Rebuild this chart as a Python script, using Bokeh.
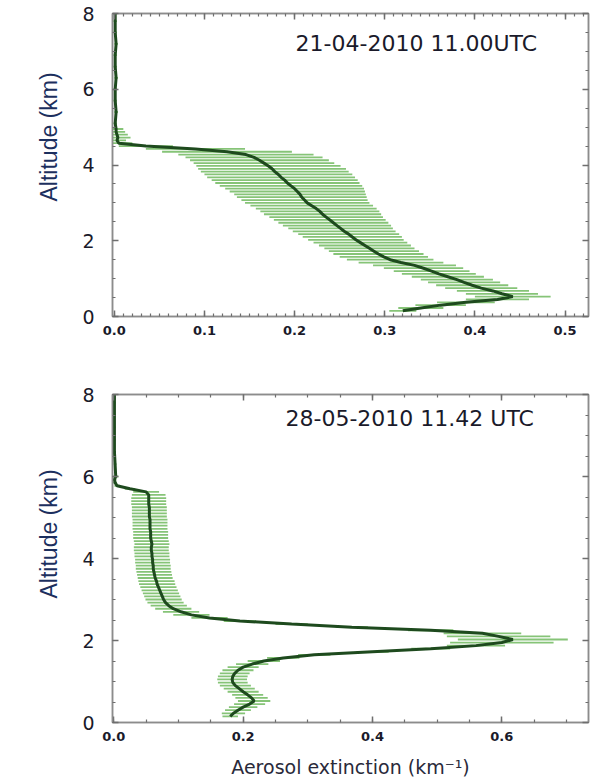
import numpy as np
from bokeh.plotting import figure
from bokeh.models import (LinearAxis, Label, Title, SingleIntervalTicker, Range1d,
                          NumeralTickFormatter, CustomJSTickFormatter)
from bokeh.layouts import column
from bokeh.embed import file_html
from bokeh.resources import INLINE

# ---------------- data: panel 1 (21-04-2010 11.00UTC) ----------------
top_title = "21-04-2010 11.00UTC"
top_alt = [0.15, 0.225, 0.30, 0.375, 0.45, 0.525, 0.60, 0.675, 0.75, 0.825,
           0.90, 0.975, 1.05, 1.125, 1.20, 1.275, 1.35, 1.425, 1.50, 1.575,
           1.65, 1.725, 1.80, 1.875, 1.95, 2.025, 2.10, 2.175, 2.25, 2.325,
           2.40, 2.475, 2.55, 2.625, 2.70, 2.775, 2.85, 2.925, 3.00, 3.075,
           3.15, 3.225, 3.30, 3.375, 3.45, 3.525, 3.60, 3.675, 3.75, 3.825,
           3.90, 3.975, 4.05, 4.125, 4.20, 4.275, 4.35, 4.425, 4.50, 4.575,
           4.65, 4.725, 4.80, 4.875, 4.95, 5.10, 5.40, 5.70, 6.00, 6.30,
           6.60, 6.90, 7.20, 7.50, 7.80, 8.00]
top_ext = [0.320, 0.340, 0.362, 0.390, 0.425, 0.442, 0.430, 0.420, 0.407, 0.397,
           0.388, 0.380, 0.370, 0.360, 0.352, 0.343, 0.333, 0.318, 0.306, 0.299,
           0.293, 0.288, 0.283, 0.278, 0.273, 0.268, 0.264, 0.260, 0.255, 0.251,
           0.247, 0.243, 0.239, 0.235, 0.231, 0.228, 0.224, 0.219, 0.214, 0.211,
           0.208, 0.206, 0.203, 0.200, 0.196, 0.192, 0.189, 0.185, 0.182, 0.178,
           0.175, 0.171, 0.166, 0.161, 0.155, 0.146, 0.125, 0.090, 0.035, 0.005,
           0.003, 0.004, 0.003, 0.002, 0.002, 0.001, 0.002, 0.001, 0.001, 0.002,
           0.001, 0.001, 0.002, 0.001, 0.001, 0.001]
top_err = [0.015, 0.025, 0.028, 0.032, 0.035, 0.042, 0.040, 0.040, 0.040, 0.040,
           0.040, 0.040, 0.040, 0.041, 0.042, 0.044, 0.046, 0.047, 0.048, 0.049,
           0.050, 0.050, 0.050, 0.051, 0.052, 0.053, 0.055, 0.056, 0.057, 0.058,
           0.060, 0.061, 0.062, 0.063, 0.065, 0.066, 0.067, 0.068, 0.069, 0.070,
           0.072, 0.073, 0.075, 0.077, 0.079, 0.080, 0.081, 0.082, 0.082, 0.082,
           0.082, 0.080, 0.078, 0.077, 0.076, 0.075, 0.072, 0.055, 0.030, 0.015,
           0.010, 0.014, 0.012, 0.010, 0.008, 0.002, 0.002, 0.002, 0.002, 0.002,
           0.002, 0.002, 0.002, 0.002, 0.002, 0.002]

# ---------------- data: panel 2 (28-05-2010 11.42 UTC) ----------------
bot_title = "28-05-2010 11.42 UTC"
bot_alt = [0.15, 0.225, 0.30, 0.375, 0.45, 0.525, 0.60, 0.675, 0.75, 0.825,
           0.90, 0.975, 1.05, 1.125, 1.20, 1.275, 1.35, 1.425, 1.50, 1.575,
           1.65, 1.725, 1.80, 1.875, 1.95, 2.025, 2.10, 2.175, 2.25, 2.325,
           2.40, 2.475, 2.55, 2.625, 2.70, 2.775, 2.85, 2.925, 3.00, 3.075,
           3.15, 3.225, 3.30, 3.375, 3.45, 3.525, 3.60, 3.675, 3.75, 3.825,
           3.90, 3.975, 4.05, 4.125, 4.20, 4.275, 4.35, 4.425, 4.50, 4.575,
           4.65, 4.725, 4.80, 4.875, 4.95, 5.025, 5.10, 5.175, 5.25, 5.325,
           5.40, 5.475, 5.55, 5.625, 5.70, 5.775, 5.85, 5.925, 6.00, 6.30,
           6.60, 6.90, 7.20, 7.50, 7.80, 8.00]
bot_ext = [0.180, 0.185, 0.192, 0.200, 0.210, 0.217, 0.213, 0.207, 0.200, 0.194,
           0.188, 0.184, 0.183, 0.184, 0.187, 0.192, 0.200, 0.214, 0.232, 0.262,
           0.310, 0.400, 0.490, 0.560, 0.600, 0.617, 0.595, 0.570, 0.490, 0.368,
           0.275, 0.195, 0.148, 0.120, 0.104, 0.092, 0.085, 0.080, 0.077, 0.075,
           0.073, 0.071, 0.069, 0.067, 0.066, 0.064, 0.063, 0.062, 0.061, 0.061,
           0.060, 0.060, 0.059, 0.059, 0.058, 0.058, 0.059, 0.058, 0.057, 0.057,
           0.057, 0.056, 0.056, 0.056, 0.056, 0.055, 0.055, 0.055, 0.055, 0.054,
           0.054, 0.054, 0.054, 0.050, 0.025, 0.005, 0.002, 0.001, 0.003, 0.002,
           0.001, 0.001, 0.001, 0.001, 0.001, 0.001]
bot_err = [0.012, 0.018, 0.020, 0.022, 0.024, 0.025, 0.025, 0.024, 0.024, 0.024,
           0.024, 0.023, 0.023, 0.023, 0.023, 0.024, 0.024, 0.025, 0.025, 0.025,
           0.025, 0.025, 0.030, 0.045, 0.080, 0.085, 0.080, 0.060, 0.035, 0.025,
           0.025, 0.025, 0.028, 0.028, 0.028, 0.028, 0.028, 0.028, 0.028, 0.028,
           0.028, 0.028, 0.028, 0.028, 0.028, 0.027, 0.027, 0.027, 0.027, 0.027,
           0.027, 0.027, 0.027, 0.027, 0.027, 0.027, 0.027, 0.027, 0.027, 0.027,
           0.027, 0.027, 0.027, 0.027, 0.027, 0.027, 0.027, 0.027, 0.027, 0.027,
           0.027, 0.027, 0.026, 0.020, 0.008, 0.004, 0.003, 0.003, 0.004, 0.002,
           0.002, 0.002, 0.002, 0.002, 0.002, 0.002]

x_label = "Aerosol extinction (km\u207b\u00b9)"
y_label = "Altitude (km)"

FRAME = "#8c8c8c"
LINE = "#1e4a1e"
BAR = "#58ad42"
NAVY = "#1c2f5e"
TXT = "#1a1a2a"


def style_axis(ax, ticker):
    ax.ticker = ticker
    ax.axis_line_color = FRAME
    ax.axis_line_width = 1.5
    ax.major_tick_in = 6
    ax.major_tick_out = 0
    ax.minor_tick_in = 3
    ax.minor_tick_out = 0
    ax.major_tick_line_color = "#6e6e6e"
    ax.minor_tick_line_color = "#6e6e6e"
    ax.major_tick_line_width = 1.5
    ax.minor_tick_line_width = 1.2


def mirror(p, place, ticker):
    ax = LinearAxis(formatter=CustomJSTickFormatter(code="return ''"))
    style_axis(ax, ticker)
    ax.major_label_standoff = 0
    ax.major_label_text_font_size = "1px"
    p.add_layout(ax, place)


def panel(alt, ext, err, title, xr, xstep, xminor, w, h, mb, tx, ty, yoff,
          show_xlabel):
    p = figure(width=w, height=h, x_range=Range1d(*xr), y_range=Range1d(0, 8),
               output_backend="svg", toolbar_location=None,
               min_border_left=mb[0], min_border_right=mb[1],
               min_border_top=mb[2], min_border_bottom=mb[3])
    p.grid.grid_line_color = None
    p.outline_line_color = FRAME
    p.outline_line_width = 1.5
    p.background_fill_color = "white"
    p.border_fill_color = "white"

    a = np.array(alt)
    e = np.array(ext)
    s = np.array(err)
    p.segment(x0=e - s, x1=e + s, y0=a, y1=a, line_color=BAR,
              line_width=1.8, line_alpha=0.72)
    p.line(ext, alt, line_color=LINE, line_width=3.0)

    xax = p.below[0]
    yax = p.left[0]
    style_axis(xax, SingleIntervalTicker(interval=xstep, num_minor_ticks=xminor))
    style_axis(yax, SingleIntervalTicker(interval=2, num_minor_ticks=4))
    xax.formatter = NumeralTickFormatter(format="0.0")
    xax.major_label_text_font = "DejaVu Sans"
    xax.major_label_text_font_style = "bold"
    xax.major_label_text_font_size = "13px"
    xax.major_label_text_color = TXT
    xax.major_label_standoff = 9
    yax.major_label_text_font = "DejaVu Sans"
    yax.major_label_text_font_size = "19px"
    yax.major_label_text_color = TXT
    yax.major_label_standoff = 18

    if show_xlabel:
        xax.axis_label = x_label
        xax.axis_label_text_font = "DejaVu Sans"
        xax.axis_label_text_font_style = "normal"
        xax.axis_label_text_font_size = "19px"
        xax.axis_label_text_color = "#2a2a3a"
        xax.axis_label_standoff = 12

    p.add_layout(Title(text=y_label, align="left", offset=yoff, standoff=36,
                       text_font="Liberation Sans", text_font_size="23px",
                       text_font_style="normal", text_color=NAVY), "left")

    mirror(p, "above", SingleIntervalTicker(interval=xstep, num_minor_ticks=xminor))
    mirror(p, "right", SingleIntervalTicker(interval=2, num_minor_ticks=4))

    p.add_layout(Label(x=tx, y=ty, text=title, text_font="DejaVu Sans",
                       text_font_size="22px", text_color=TXT,
                       text_align="center", text_baseline="middle"))
    return p


p1 = panel(top_alt, top_ext, top_err, top_title, (-0.002, 0.526), 0.1, 10,
           590, 345, (112, 2, 13, 29), 0.335, 7.2, 115, False)
p2 = panel(bot_alt, bot_ext, bot_err, bot_title, (-0.002, 0.734), 0.2, 4,
           590, 435, (106, 2, 49, 58), 0.4575, 7.41, 124, True)

layout = column(p1, p2, spacing=0)
open("out.html", "w").write(file_html(layout, INLINE))
